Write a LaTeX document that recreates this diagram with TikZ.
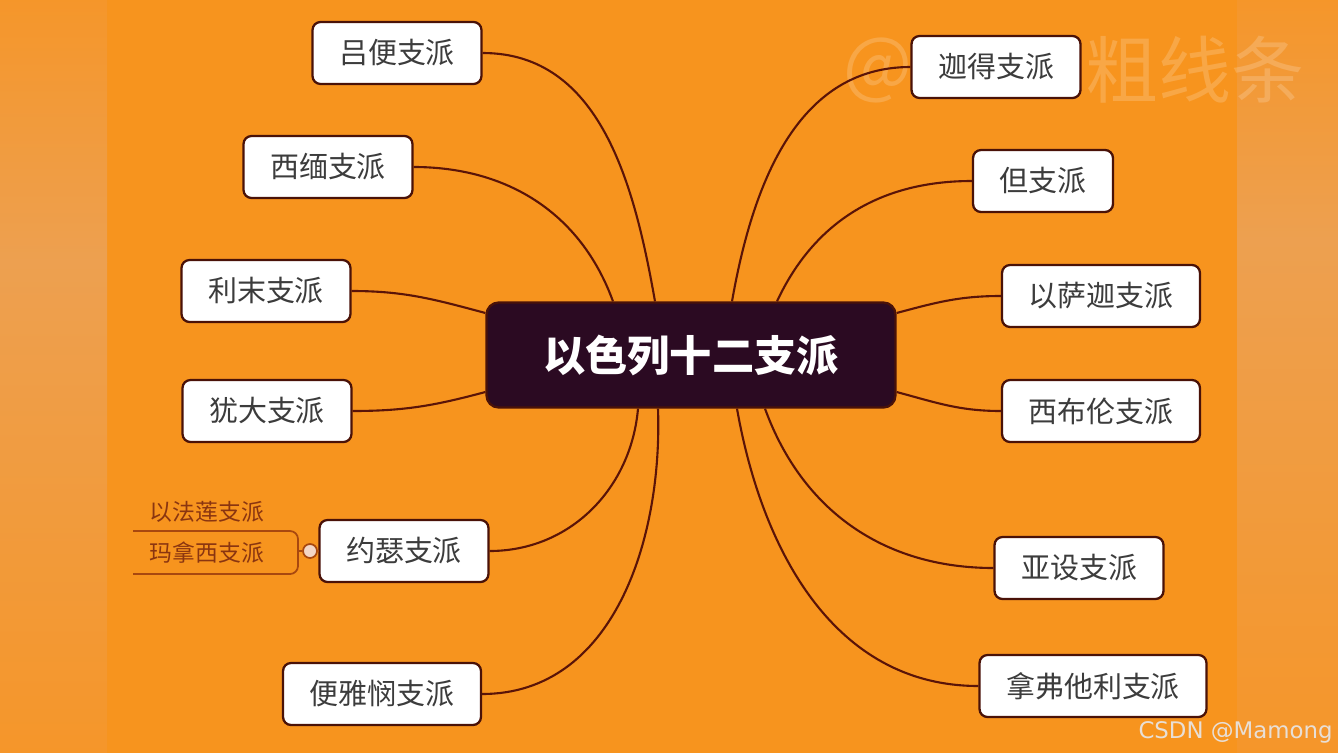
\documentclass[tikz,border=0pt]{standalone}
\usepackage{fontspec}
\newfontfamily\cjk{Noto Sans CJK SC}
\newfontfamily\wmlatin{DejaVu Sans}
\usetikzlibrary{calc}

\definecolor{bgorange}{HTML}{F7941E}
\definecolor{stripedge}{HTML}{F5962A}
\definecolor{stripglow}{HTML}{EDA050}
\definecolor{branchline}{HTML}{5A1408}
\definecolor{boxline}{HTML}{4A1208}
\definecolor{hubfill}{HTML}{2B0A22}
\definecolor{boxtext}{HTML}{3C3C3C}
\definecolor{subline}{HTML}{A8480F}
\definecolor{subtext}{HTML}{8A3510}
\definecolor{knobfill}{HTML}{F3D6C6}
\definecolor{csdngray}{HTML}{E8DFD6}

\tikzset{
  tribe/.style={draw=boxline,line width=1.3pt,fill=white,rounded corners=0.16cm,
    minimum height=1.24cm,inner xsep=0.53cm,text=boxtext,
    font=\cjk\fontsize{16.5}{20}\selectfont},
  hub/.style={draw=boxline,line width=1.3pt,fill=hubfill,rounded corners=0.24cm,
    minimum width=8.18cm,minimum height=2.1cm,text=white,
    font=\cjk\bfseries\fontsize{24}{28}\selectfont},
  branch/.style={draw=branchline,line width=1.2pt},
  subtribe/.style={text=subtext,inner sep=0pt,font=\cjk\fontsize{13}{16}\selectfont},
  subbracket/.style={draw=subline,line width=1pt,rounded corners=0.16cm},
  knob/.style={circle,draw=subline,line width=1pt,fill=knobfill,minimum size=0.28cm,inner sep=0pt},
  watermark/.style={text=white,opacity=0.18,inner sep=0pt,font=\cjk\fontsize{41.5}{46}\selectfont},
}

\begin{document}
\begin{tikzpicture}[x=0.02cm,y=0.02cm]
  % 背景
  \useasboundingbox (0,0) rectangle (1338,752);
  \fill[bgorange] (-2,-2) rectangle (1340,754);
  \shade[top color=stripedge,bottom color=stripglow] (-2,490) rectangle (107,754);
  \shade[top color=stripglow,bottom color=stripedge] (-2,-2) rectangle (107,490);
  \shade[top color=stripedge,bottom color=stripglow] (1237,512) rectangle (1340,754);
  \shade[top color=stripglow,bottom color=stripedge] (1237,-2) rectangle (1340,512);

  % 水印
  \node[watermark] (wmat) at (878,682) {@};
  \node[watermark] (wmtext) at (1195,682) {粗线条};

  % 中心主题
  \node[hub] (hub) at (691,397) {以色列十二支派};

  % 左侧支派
  \node[tribe] (reuben) at (397,699) {吕便支派};
  \node[tribe] (simeon) at (328,585) {西缅支派};
  \node[tribe] (levi) at (266,461) {利末支派};
  \node[tribe] (judah) at (267,341) {犹大支派};
  \node[tribe] (joseph) at (404,201) {约瑟支派};
  \node[tribe] (benjamin) at (382,58) {便雅悯支派};

  % 右侧支派
  \node[tribe] (gad) at (996,685) {迦得支派};
  \node[tribe] (dan) at (1043,571) {但支派};
  \node[tribe] (issachar) at (1101,456) {以萨迦支派};
  \node[tribe] (zebulun) at (1101,341) {西布伦支派};
  \node[tribe] (asher) at (1079,184) {亚设支派};
  \node[tribe] (naphtali) at (1093,66) {拿弗他利支派};

  % 连线
  \draw[branch] (reuben.east) to[out=0,in=100] ($(hub.north)+(-36,0)$);
  \draw[branch] (simeon.east) to[out=0,in=110] ($(hub.north)+(-78,0)$);
  \draw[branch] (levi.east) to[out=0,in=165] ($(hub.west)+(0,42)$);
  \draw[branch] (judah.east) to[out=0,in=195] ($(hub.west)+(0,-37)$);
  \draw[branch] (joseph.east) to[out=0,in=-95] ($(hub.south)+(-53,0)$);
  \draw[branch] (benjamin.east) to[out=0,in=-88] ($(hub.south)+(-33,0)$);
  \draw[branch] (gad.west) to[out=180,in=80] ($(hub.north)+(41,0)$);
  \draw[branch] (dan.west) to[out=180,in=65] ($(hub.north)+(86,0)$);
  \draw[branch] (issachar.west) to[out=180,in=15] ($(hub.east)+(0,42)$);
  \draw[branch] (zebulun.west) to[out=180,in=-15] ($(hub.east)+(0,-37)$);
  \draw[branch] (asher.west) to[out=180,in=-70] ($(hub.south)+(74,0)$);
  \draw[branch] (naphtali.west) to[out=180,in=-80] ($(hub.south)+(46,0)$);

  % 约瑟的子支派
  \node[subtribe] (ephraim) at (207,240) {以法莲支派};
  \node[subtribe] (manasseh) at (207,199) {玛拿西支派};
  \draw[subbracket] (133,221) -- (298,221) -- (298,178) -- (133,178);
  \coordinate (fork) at (298,201);
  \node[knob] (knob) at (310,201) {};
  \draw[subline,line width=1pt] (fork) -- (knob.west);
  \draw[subline,line width=1pt] (knob.east) -- (joseph.west);

  % 署名
  \node[text=csdngray,anchor=base east,inner sep=0pt,font=\wmlatin\fontsize{13}{15}\selectfont] (csdn) at (1333,14) {CSDN @Mamong};
\end{tikzpicture}
\end{document}
